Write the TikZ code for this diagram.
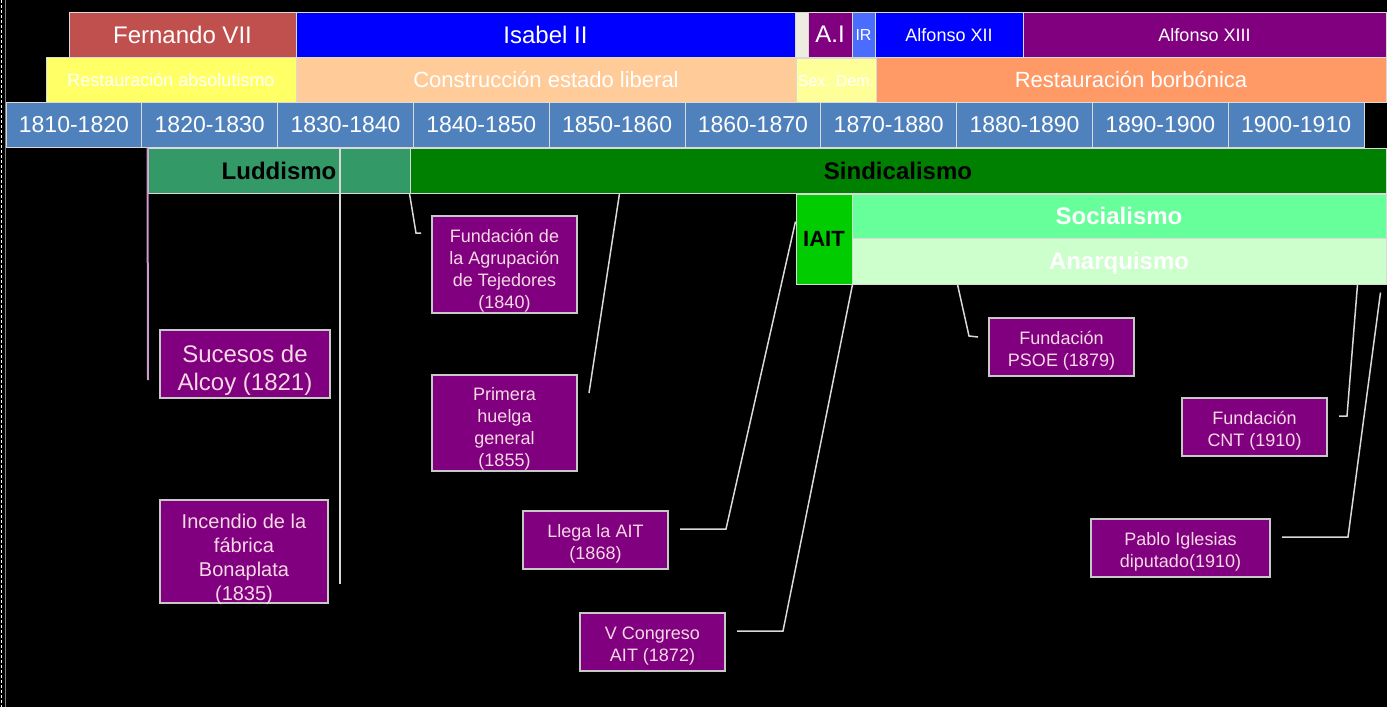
\documentclass[tikz,border=0pt]{standalone}
\usepackage{fontspec}
\setmainfont{Liberation Sans}
\usetikzlibrary{calc}

\definecolor{fernandocol}{HTML}{C0504D}
\definecolor{bluecol}{HTML}{0000FF}
\definecolor{gapcol}{HTML}{EEECE1}
\definecolor{purplecol}{HTML}{800080}
\definecolor{ircol}{HTML}{4A6CFF}
\definecolor{absolutcol}{HTML}{FFFF66}
\definecolor{liberalcol}{HTML}{FFCC99}
\definecolor{sexeniocol}{HTML}{FFFF99}
\definecolor{borboncol}{HTML}{FF9966}
\definecolor{decadecol}{HTML}{4F81BD}
\definecolor{luddcol}{HTML}{339966}
\definecolor{sindicol}{HTML}{008000}
\definecolor{iaitcol}{HTML}{00CC00}
\definecolor{sociacol}{HTML}{66FF99}
\definecolor{anarcol}{HTML}{CCFFCC}
\definecolor{barline}{HTML}{D9D9D9}
\definecolor{eventline}{HTML}{C8C8C8}
\definecolor{pinkline}{HTML}{CC99CC}

\newcommand{\dropline}[1]{\rule{0pt}{#1}}

\begin{document}
\begin{tikzpicture}[x=1pt, y=-1pt,
        bar_style/.style={rectangle,draw=barline,line width=1pt,inner sep=0pt,text depth=0pt,text=white,font=\fontsize{24}{28}\selectfont},
        bold_bar_style/.style={bar_style,text=black,font=\fontsize{24}{28}\selectfont\bfseries},
        decade_style/.style={bar_style,fill=decadecol,minimum width=135.8pt,minimum height=45pt,font=\fontsize{23}{27}\selectfont},
        event_style/.style={rectangle,draw=eventline,fill=purplecol,line width=1.5pt,inner sep=0pt,align=center,text=white!85!purple,font=\fontsize{18}{22}\selectfont},
        edge_style/.style={draw=barline, line width=1.5pt,-},
        pink_edge_style/.style={draw=pinkline, line width=2pt,-}]

        \fill[black] (0,0) rectangle (1387,707);
        \useasboundingbox (0,0) rectangle (1387,707);
        \draw[white, line width=1pt, dash pattern=on 3pt off 2pt] (1.5,0) -- (1.5,707);
        \draw[gray, line width=1pt] (5,0) -- (5,707);

        % reigns
        \node [bar_style,fill=fernandocol,minimum width=227pt,minimum height=45pt](fernando) at (182.5,34.5) {Fernando VII};
        \node [bar_style,fill=bluecol,minimum width=499pt,minimum height=45pt](isabel) at (545.5,34.5) {Isabel II};
        \node [bar_style,fill=gapcol,minimum width=13pt,minimum height=45pt](gap) at (801.5,34.5) {};
        \node [bar_style,fill=purplecol,minimum width=44pt,minimum height=45pt](amadeo) at (830,34.5) {A.I};
        \node [bar_style,fill=ircol,minimum width=23pt,minimum height=45pt,font=\fontsize{16}{19}\selectfont](republica) at (863.5,34.5) {IR};
        \node [bar_style,fill=bluecol,minimum width=148pt,minimum height=45pt,font=\fontsize{18}{21}\selectfont](alfonsoxii) at (949,34.5) {Alfonso XII};
        \node [bar_style,fill=purplecol,minimum width=363pt,minimum height=45pt,font=\fontsize{18}{21}\selectfont](alfonsoxiii) at (1204.5,34.5) {Alfonso XIII};

        % periods
        \node [bar_style,fill=absolutcol,minimum width=250pt,minimum height=45pt,font=\fontsize{18}{21}\selectfont](absolutismo) at (171,79.5) {Restauración absolutismo};
        \node [bar_style,fill=liberalcol,minimum width=500pt,minimum height=45pt,font=\fontsize{22}{26}\selectfont](liberal) at (546,79.5) {Construcción estado liberal};
        \node [bar_style,fill=sexeniocol,minimum width=80pt,minimum height=45pt,font=\fontsize{16}{19}\selectfont](sexenio) at (836,80.5) {Sex. Dem.};
        \node [bar_style,fill=borboncol,minimum width=510pt,minimum height=45pt,font=\fontsize{22}{26}\selectfont](borbonica) at (1131,79.5) {Restauración borbónica};

        % decades
        \node [decade_style](d1810) at (73.9,124.5) {1810-1820};
        \node [decade_style](d1820) at (209.7,124.5) {1820-1830};
        \node [decade_style](d1830) at (345.5,124.5) {1830-1840};
        \node [decade_style](d1840) at (481.3,124.5) {1840-1850};
        \node [decade_style](d1850) at (617.1,124.5) {1850-1860};
        \node [decade_style](d1860) at (752.9,124.5) {1860-1870};
        \node [decade_style](d1870) at (888.7,124.5) {1870-1880};
        \node [decade_style](d1880) at (1024.5,124.5) {1880-1890};
        \node [decade_style](d1890) at (1160.3,124.5) {1890-1900};
        \node [decade_style](d1900) at (1296.1,124.5) {1900-1910};

        % movements
        \node [bold_bar_style,fill=luddcol,minimum width=262pt,minimum height=45pt](luddismo) at (279,170.5) {Luddismo};
        \node [bold_bar_style,fill=sindicol,minimum width=976pt,minimum height=45pt](sindicalismo) at (898,170.5) {Sindicalismo};
        \node [bold_bar_style,fill=iaitcol,minimum width=56pt,minimum height=90pt,font=\fontsize{22}{26}\selectfont\bfseries](iait) at (824,239) {IAIT};
        \node [bold_bar_style,fill=sociacol,text=white,minimum width=534pt,minimum height=44pt](socialismo) at (1119,216) {Socialismo};
        \node [bold_bar_style,fill=anarcol,text=white,minimum width=534pt,minimum height=46pt](anarquismo) at (1119,261) {Anarquismo};

        % events
        \node [event_style,minimum width=170pt,minimum height=68pt,font=\fontsize{24}{28}\selectfont](alcoy) at (245,364) {\dropline{30pt}Sucesos de\\Alcoy (1821)};
        \node [event_style,text depth=0pt,minimum width=168pt,minimum height=103pt,font=\fontsize{20}{24}\selectfont](bonaplata) at (244,551.5) {\dropline{25pt}Incendio de la\\fábrica\\Bonaplata\\(1835)};
        \node [event_style,minimum width=145pt,minimum height=97pt](tejedores) at (504.5,264.5) {\dropline{25pt}Fundación de\\la Agrupación\\de Tejedores\\(1840)};
        \node [event_style,minimum width=145pt,minimum height=96pt](huelga) at (504.5,423) {\dropline{25pt}Primera\\huelga\\general\\(1855)};
        \node [event_style,minimum width=145pt,minimum height=58pt](llega) at (595.5,540) {\dropline{20pt}Llega la AIT\\(1868)};
        \node [event_style,minimum width=145pt,minimum height=58pt](congreso) at (652.5,642) {\dropline{20pt}V Congreso\\AIT (1872)};
        \node [event_style,minimum width=145pt,minimum height=58pt](psoe) at (1061.5,347) {\dropline{20pt}Fundación\\PSOE (1879)};
        \node [event_style,minimum width=145pt,minimum height=58pt](cnt) at (1254.5,427) {\dropline{20pt}Fundación\\CNT (1910)};
        \node [event_style,minimum width=179pt,minimum height=58pt](iglesias) at (1180.5,548) {\dropline{20pt}Pablo Iglesias\\diputado(1910)};

        \coordinate (alcoy_end) at (148,380);
        \coordinate (bonaplata_end) at (340,584);
        \coordinate (tejedores_bend) at (416,233);
        \coordinate (tejedores_end) at (421,233);
        \coordinate (huelga_end) at (589,393);
        \coordinate (llega_bend) at (726,529);
        \coordinate (llega_end) at (680,529);
        \coordinate (congreso_bend) at (783,631);
        \coordinate (congreso_end) at (737,631);
        \coordinate (psoe_bend) at (969,336);
        \coordinate (psoe_end) at (978,337);
        \coordinate (cnt_bend) at (1347,416);
        \coordinate (cnt_end) at (1339,416);
        \coordinate (iglesias_bend) at (1348,537);
        \coordinate (iglesias_end) at (1282,537);

        \draw [pink_edge_style] (luddismo.north west) -- (alcoy_end);
        \draw [edge_style] (d1830.south -| bonaplata_end) -- (bonaplata_end);
        \draw [edge_style] (sindicalismo.south west) -- (tejedores_bend) -- (tejedores_end);
        \draw [edge_style] ([xshift=210pt]sindicalismo.south west) -- (huelga_end);
        \draw [edge_style] ([yshift=-28pt]iait.north west) -- (llega_bend) -- (llega_end);
        \draw [edge_style] (iait.south east) -- (congreso_bend) -- (congreso_end);
        \draw [edge_style] ([xshift=106pt]anarquismo.south west) -- (psoe_bend) -- (psoe_end);
        \draw [edge_style] ([xshift=-29pt]anarquismo.south east) -- (cnt_bend) -- (cnt_end);
        \draw [edge_style] ([xshift=-6pt,yshift=-8pt]anarquismo.south east) -- (iglesias_bend) -- (iglesias_end);
        \end{tikzpicture}
\end{document}
